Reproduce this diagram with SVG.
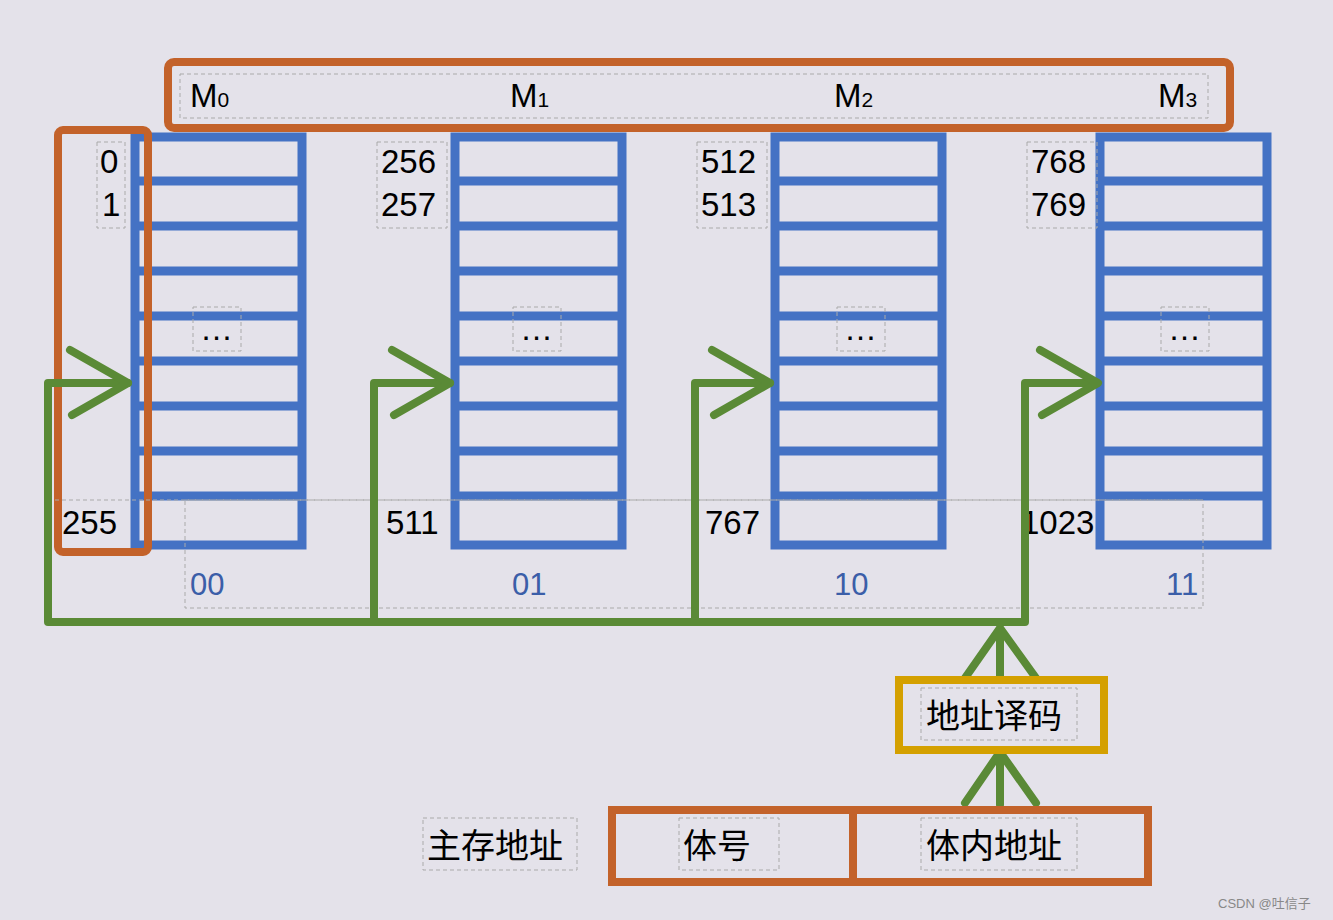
<svg xmlns="http://www.w3.org/2000/svg" width="1333" height="920" viewBox="0 0 1333 920">
<defs>
<style>
.or{fill:none;stroke:#c3622a;stroke-width:8}
.gr{fill:none;stroke:#5a8a36;stroke-width:8;stroke-linejoin:round;stroke-linecap:round}
.dash{fill:none;stroke:#aaa;stroke-width:1;stroke-dasharray:4 3}
text{font-family:"Liberation Sans","Noto Sans CJK SC",sans-serif;fill:#000}
.n{font-size:33px}
.b{font-size:31px;fill:#3b5ea8}
.cj{font-size:34px}
</style>
<g id="rows" fill="none" stroke="#4472c4" stroke-width="9">
<rect x="0" y="0" width="167" height="408"/>
<path d="M0 44H167M0 89H167M0 134H167M0 179H167M0 224H167M0 269H167M0 314H167M0 359H167"/>
</g>
</defs>
<rect width="1333" height="920" fill="#e4e2ea"/>
<g id="bank0"><use href="#rows" x="135" y="137"/></g>
<g id="bank1"><use href="#rows" x="455" y="137"/></g>
<g id="bank2"><use href="#rows" x="775" y="137"/></g>
<g id="bank3"><use href="#rows" x="1100" y="137"/></g>
<g id="mbar"><rect class="or" x="168" y="62" width="1062" height="66" rx="6"/>
<rect class="dash" x="180" y="74" width="1028" height="44"/>
<text x="190" y="107" font-size="33">M<tspan font-size="21">0</tspan></text>
<text x="510" y="107" font-size="33">M<tspan font-size="21">1</tspan></text>
<text x="834" y="107" font-size="33">M<tspan font-size="21">2</tspan></text>
<text x="1158" y="107" font-size="33">M<tspan font-size="21">3</tspan></text></g>
<g id="bracket"><rect class="or" x="58" y="130" width="90" height="422" rx="5"/></g>
<g id="labels">
<rect class="dash" x="97" y="142" width="28" height="86"/>
<text class="n" x="100" y="173">0</text><text class="n" x="102" y="216">1</text>
<rect class="dash" x="377" y="142" width="70" height="86"/>
<text class="n" x="381" y="173">256</text><text class="n" x="381" y="216">257</text>
<rect class="dash" x="697" y="142" width="70" height="86"/>
<text class="n" x="701" y="173">512</text><text class="n" x="701" y="216">513</text>
<rect class="dash" x="1027" y="142" width="70" height="86"/>
<text class="n" x="1031" y="173">768</text><text class="n" x="1031" y="216">769</text>
<rect class="dash" x="193" y="307" width="48" height="44"/><text class="n" x="200" y="340">…</text>
<rect class="dash" x="513" y="307" width="48" height="44"/><text class="n" x="520" y="340">…</text>
<rect class="dash" x="837" y="307" width="48" height="44"/><text class="n" x="844" y="340">…</text>
<rect class="dash" x="1161" y="307" width="48" height="44"/><text class="n" x="1168" y="340">…</text>
<line class="dash" x1="55" y1="500" x2="1203" y2="500"/>
<text class="n" x="62" y="534">255</text><text class="n" x="386" y="534">511</text>
<text class="n" x="705" y="534">767</text><text class="n" x="1021" y="534">1023</text>
<rect class="dash" x="185" y="500" width="1018" height="108"/>
<text class="b" x="190" y="595">00</text><text class="b" x="512" y="595">01</text>
<text class="b" x="834" y="595">10</text><text class="b" x="1166" y="595">11</text>
</g>
<g id="connectors" class="gr">
<path d="M48 383V622H1025V383H1095M374 622V383H450M695 622V383H770M48 383H128"/>
<path d="M70 350L128 383L72 415M392 350L450 383L394 415M712 350L770 383L714 415M1040 350L1098 383L1042 415"/>
<path d="M1000 680V628M965 678L1000 628L1036 678M1000 805V752M965 803L1000 752L1036 803"/>
</g>
<g id="decoder"><rect x="899" y="680" width="205" height="70" fill="none" stroke="#d4a000" stroke-width="8"/>
<rect class="dash" x="921" y="688" width="156" height="52"/>
<text class="cj" x="926" y="728">地址译码</text></g>
<g id="addr"><rect class="or" x="612" y="810" width="536" height="72"/>
<line class="or" x1="853" y1="810" x2="853" y2="882"/>
<rect class="dash" x="423" y="818" width="154" height="52"/><text class="cj" x="427" y="858">主存地址</text>
<rect class="dash" x="679" y="818" width="100" height="52"/><text class="cj" x="683" y="858">体号</text>
<rect class="dash" x="921" y="818" width="156" height="52"/><text class="cj" x="926" y="858">体内地址</text></g>
<text x="1218" y="908" font-size="13" style="fill:#888">CSDN @吐信子</text>
</svg>
